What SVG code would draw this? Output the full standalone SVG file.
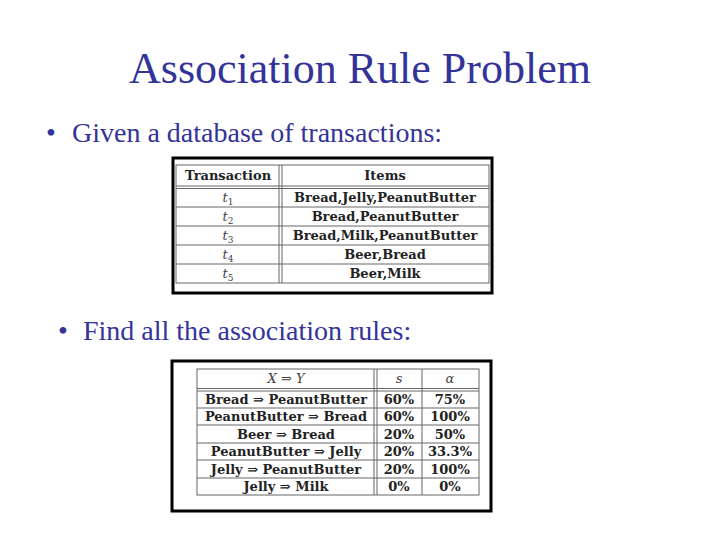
<svg xmlns="http://www.w3.org/2000/svg" width="720" height="540" viewBox="0 0 720 540">
<style>
.t{font-family:"Liberation Serif",serif;fill:#333399}
.c{font-family:"DejaVu Serif","Liberation Serif",serif;font-size:13px;font-weight:bold;fill:#222;text-anchor:middle}
.i{font-family:"DejaVu Serif","Liberation Serif",serif;font-size:13px;font-style:italic;fill:#444;text-anchor:middle}
.s{font-size:9px;font-style:normal}
.l{stroke:#666;stroke-width:1;fill:none}
.b{fill:#fff;stroke:#000;stroke-width:3}
</style>
<rect width="720" height="540" fill="#fff"/>
<text class="t" x="360" y="83" font-size="44" text-anchor="middle">Association Rule Problem</text>
<text class="t" x="46" y="142" font-size="28">•</text>
<text class="t" x="72" y="142" font-size="28">Given a database of transactions:</text>
<text class="t" x="58" y="340" font-size="28">•</text>
<text class="t" x="83" y="340" font-size="28">Find all the association rules:</text>

<g id="table1">
<rect class="b" x="173" y="158" width="319" height="135"/>
<rect class="l" x="176" y="165" width="313" height="118"/>
<path class="l" d="M176 186H489M176 188.5H489M176 207H489M176 226H489M176 245H489M176 264H489M279 165V283M282 165V283"/>
<text class="c" x="228" y="180">Transaction</text>
<text class="c" x="385" y="180">Items</text>
<text class="i" x="228" y="202">t<tspan class="s" dy="3">1</tspan></text><text class="c" x="385" y="202">Bread,Jelly,PeanutButter</text>
<text class="i" x="228" y="221">t<tspan class="s" dy="3">2</tspan></text><text class="c" x="385" y="221">Bread,PeanutButter</text>
<text class="i" x="228" y="240">t<tspan class="s" dy="3">3</tspan></text><text class="c" x="385" y="240">Bread,Milk,PeanutButter</text>
<text class="i" x="228" y="259">t<tspan class="s" dy="3">4</tspan></text><text class="c" x="385" y="259">Beer,Bread</text>
<text class="i" x="228" y="278">t<tspan class="s" dy="3">5</tspan></text><text class="c" x="385" y="278">Beer,Milk</text>
</g>

<g id="table2">
<rect class="b" x="172" y="361" width="319" height="150"/>
<rect class="l" x="197" y="369" width="282" height="126"/>
<path class="l" d="M197 388.5H479M197 391H479M197 408H479M197 425H479M197 443H479M197 460H479M197 478H479M374 369V495M377 369V495M422 369V495"/>
<text class="i" x="286" y="383">X ⇒ Y</text>
<text class="i" x="399" y="383">s</text>
<text class="i" x="450" y="383">α</text>
<text class="c" x="286" y="404">Bread ⇒ PeanutButter</text><text class="c" x="399" y="404">60%</text><text class="c" x="450" y="404">75%</text>
<text class="c" x="286" y="421">PeanutButter ⇒ Bread</text><text class="c" x="399" y="421">60%</text><text class="c" x="450" y="421">100%</text>
<text class="c" x="286" y="439">Beer ⇒ Bread</text><text class="c" x="399" y="439">20%</text><text class="c" x="450" y="439">50%</text>
<text class="c" x="286" y="456">PeanutButter ⇒ Jelly</text><text class="c" x="399" y="456">20%</text><text class="c" x="450" y="456">33.3%</text>
<text class="c" x="286" y="474">Jelly ⇒ PeanutButter</text><text class="c" x="399" y="474">20%</text><text class="c" x="450" y="474">100%</text>
<text class="c" x="286" y="491">Jelly ⇒ Milk</text><text class="c" x="399" y="491">0%</text><text class="c" x="450" y="491">0%</text>
</g>
</svg>
